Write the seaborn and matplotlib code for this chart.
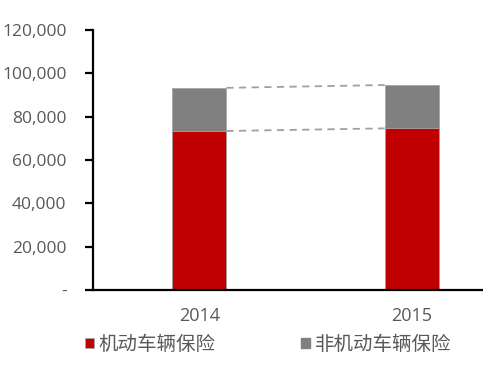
import matplotlib
matplotlib.use('Agg')
import matplotlib.pyplot as plt
import matplotlib.ticker as mticker
from matplotlib.patches import Patch
import numpy as np
import pandas as pd
import seaborn as sns

years = ['2014', '2015']
motor = [73400, 74600]
non_motor = [19900, 20000]
series_names = ['机动车辆保险', '非机动车辆保险']
y_ticks = [0, 20000, 40000, 60000, 80000, 100000, 120000]

RED = '#C00000'
GRAY = '#808080'
TXT = '#595959'

sns.set_theme(style='white')
plt.rcParams['font.family'] = ['Open Sans', 'Noto Sans CJK SC', 'DejaVu Sans']

df = pd.DataFrame({'year': years, 'motor': motor, 'non_motor': non_motor})
df['total'] = df['motor'] + df['non_motor']

fig = plt.figure(figsize=(4.83, 3.86), dpi=100)
ax = fig.add_axes([93 / 483, 1 - 290 / 386, 1 - 93 / 483, 260 / 386])

bw = 0.255
sns.barplot(data=df, x='year', y='total', color=GRAY, width=bw, saturation=1,
            edgecolor='#A6A6A6', linewidth=0.6, ax=ax)
sns.barplot(data=df, x='year', y='motor', color=RED, width=bw, saturation=1,
            edgecolor='#A6A6A6', linewidth=0.6, ax=ax)

# dashed connectors between the bars
for col in ['total', 'motor']:
    ax.plot([0 + bw / 2, 1 - bw / 2], df[col].values, ls=(0, (4, 3)),
            color='#A0A0A0', lw=1.3)

ax.set_xlim(-0.5, 1.335)
ax.set_ylim(0, 120000)
ax.set_yticks(y_ticks)
ax.yaxis.set_major_formatter(mticker.FuncFormatter(
    lambda v, p: '-' if v == 0 else f'{int(v):,}'))
ax.set_xlabel('')
ax.set_ylabel('')

for s in ['top', 'right']:
    ax.spines[s].set_visible(False)
for s in ['left', 'bottom']:
    ax.spines[s].set_color('black')
    ax.spines[s].set_linewidth(1.6)

ax.tick_params(axis='y', direction='out', length=6, width=1.6, color='black',
               labelsize=12.5, labelcolor=TXT, pad=13, left=True)
ax.tick_params(axis='x', length=0, labelsize=13, labelcolor=TXT, pad=12)

handles = [Patch(facecolor=RED, edgecolor='#A6A6A6', linewidth=0.6),
           Patch(facecolor=GRAY, edgecolor=GRAY)]
fig.legend(handles, series_names, loc='center', bbox_to_anchor=(0.555, 1 - 345 / 386),
           ncol=2, frameon=False, fontsize=14, labelcolor=TXT,
           handlelength=0.45, handleheight=0.45, handletextpad=0.25, columnspacing=4.4)

fig.savefig('out.png', dpi=100)
